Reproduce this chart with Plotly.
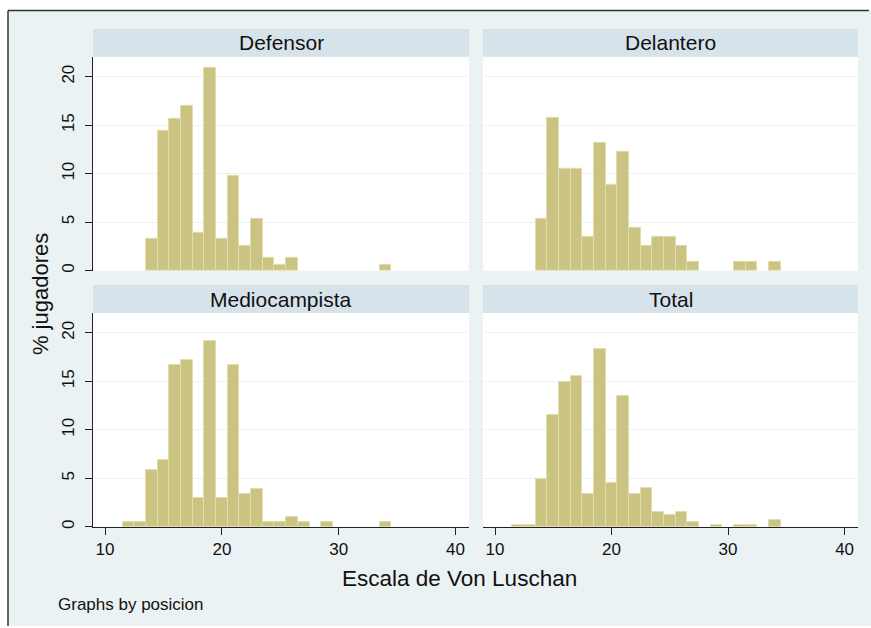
import plotly.graph_objects as go

W, H = 871, 628

# ---- data (percent of players per Von Luschan value) ----
panels = ["Defensor", "Delantero", "Mediocampista", "Total"]

def_x = [14, 15, 16, 17, 18, 19, 20, 21, 22, 23, 24, 25, 26, 34]
def_y = [3.3, 14.4, 15.7, 17.0, 3.9, 20.9, 3.3, 9.8, 2.6, 5.3, 1.3, 0.65, 1.3, 0.65]

del_x = [14, 15, 16, 17, 18, 19, 20, 21, 22, 23, 24, 25, 26, 27, 31, 32, 34]
del_y = [5.3, 15.8, 10.5, 10.5, 3.5, 13.2, 8.8, 12.3, 4.4, 2.6, 3.5, 3.5, 2.6, 0.9, 0.9, 0.9, 0.9]

med_x = [12, 13, 14, 15, 16, 17, 18, 19, 20, 21, 22, 23, 24, 25, 26, 27, 29, 34]
med_y = [0.48, 0.48, 5.9, 6.9, 16.7, 17.2, 3.0, 19.2, 3.0, 16.7, 3.4, 3.9, 0.48, 0.48, 1.0, 0.48, 0.48, 0.48]

tot_x = [12, 13, 14, 15, 16, 17, 18, 19, 20, 21, 22, 23, 24, 25, 26, 27, 29, 31, 32, 34]
tot_y = [0.2, 0.2, 4.9, 11.55, 14.9, 15.55, 3.4, 18.3, 4.5, 13.5, 3.4, 4.0, 1.5, 1.24, 1.5, 0.45, 0.2, 0.2, 0.2, 0.7]

x_ticks = [10, 20, 30, 40]
y_ticks = [0, 5, 10, 15, 20]

series = [(def_x, def_y), (del_x, del_y), (med_x, med_y), (tot_x, tot_y)]

# ---- styling ----
BG = "#EAF2F3"
STRIP = "#D7E3EA"
BAR = "#CBC381"
BAR_EDGE = "#E2DDAC"
FONT = "Liberation Sans, Arial, sans-serif"

def px(x):
    return x / W

def py(y):
    return 1 - y / H

# panel pixel boxes
cols = [(93, 469), (483, 858)]
rows = [(57, 271.5, 29), (314, 528.5, 286)]

fig = go.Figure()
layout = {}
shapes = []
annotations = []

# background region with dark top/left frame
shapes.append(dict(type="rect", xref="paper", yref="paper",
                   x0=px(8), x1=1, y0=0, y1=py(10.5),
                   fillcolor=BG, line=dict(width=0), layer="below"))
shapes.append(dict(type="line", xref="paper", yref="paper",
                   x0=px(8), x1=px(869), y0=py(10.5), y1=py(10.5),
                   line=dict(color="#333333", width=1.5)))
shapes.append(dict(type="line", xref="paper", yref="paper",
                   x0=px(8), x1=px(8), y0=0, y1=py(10.5),
                   line=dict(color="#333333", width=1.5)))

for i, name in enumerate(panels):
    r, c = divmod(i, 2)
    x0, x1 = cols[c]
    top, bot, stop = rows[r]
    n = i + 1
    xa = "xaxis" if n == 1 else f"xaxis{n}"
    ya = "yaxis" if n == 1 else f"yaxis{n}"
    xs, ys = series[i]
    fig.add_trace(go.Bar(
        x=xs, y=ys, width=1,
        marker=dict(color=BAR, line=dict(color=BAR_EDGE, width=1)),
        xaxis=f"x{n}" if n > 1 else "x", yaxis=f"y{n}" if n > 1 else "y",
        showlegend=False, hoverinfo="x+y"))
    bottom_row = r == 1
    left_col = c == 0
    layout[xa] = dict(
        domain=[px(x0), px(x1)], anchor=f"y{n}" if n > 1 else "y",
        range=[8.97, 41.15], tickvals=x_ticks if bottom_row else [],
        showticklabels=bottom_row, ticks="outside" if bottom_row else "",
        ticklen=7, tickcolor="#222222", tickwidth=1,
        showline=bottom_row, linecolor="#222222", linewidth=1,
        showgrid=False, zeroline=False, fixedrange=True,
        tickfont=dict(family=FONT, size=17, color="#111111"))
    layout[ya] = dict(
        domain=[py(bot), py(top)], anchor=f"x{n}" if n > 1 else "x",
        range=[0, 22.05], tickvals=y_ticks,
        showticklabels=left_col, ticks="outside" if left_col else "",
        ticklen=7, tickcolor="#222222", tickwidth=1, tickangle=-90,
        ticklabelstandoff=4,
        showline=left_col, linecolor="#222222", linewidth=1,
        showgrid=True, gridcolor=BG, gridwidth=1.2,
        zeroline=False, fixedrange=True,
        tickfont=dict(family=FONT, size=17, color="#111111"))
    shapes.append(dict(type="rect", xref="paper", yref="paper",
                       x0=px(x0), x1=px(x1), y0=py(bot), y1=py(top),
                       fillcolor="white", line=dict(width=0), layer="below"))
    shapes.append(dict(type="rect", xref="paper", yref="paper",
                       x0=px(x0), x1=px(x1), y0=py(top), y1=py(stop),
                       fillcolor=STRIP, line=dict(width=0), layer="below"))
    annotations.append(dict(text=name, xref="paper", yref="paper",
                            x=px((x0 + x1) / 2), y=py((top + stop) / 2),
                            xanchor="center", yanchor="middle", showarrow=False,
                            font=dict(family=FONT, size=21, color="#111111")))

annotations.append(dict(text="% jugadores", xref="paper", yref="paper",
                        x=px(40), y=py(295), textangle=-90,
                        xanchor="center", yanchor="middle", showarrow=False,
                        font=dict(family=FONT, size=22, color="#111111")))
annotations.append(dict(text="Escala de Von Luschan", xref="paper", yref="paper",
                        x=px(460), y=py(580),
                        xanchor="center", yanchor="middle", showarrow=False,
                        font=dict(family=FONT, size=22.5, color="#111111")))
annotations.append(dict(text="Graphs by posicion", xref="paper", yref="paper",
                        x=px(56), y=py(606),
                        xanchor="left", yanchor="middle", showarrow=False,
                        font=dict(family=FONT, size=17, color="#111111")))

fig.update_layout(
    width=W, height=H, margin=dict(l=0, r=0, t=0, b=0),
    paper_bgcolor="white", plot_bgcolor="rgba(0,0,0,0)",
    bargap=0, shapes=shapes, annotations=annotations, **layout)

fig.write_html("out.html", config={"displayModeBar": False},
               post_script="document.body.style.margin='0';document.body.style.overflow='hidden';")
